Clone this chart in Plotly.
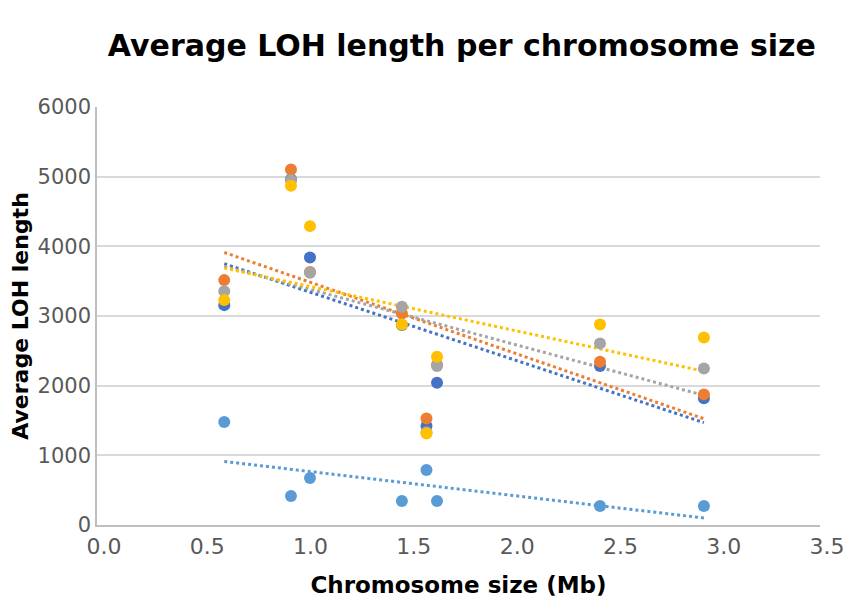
import numpy as np
import plotly.graph_objects as go

# chromosome sizes (Mb)
chrom_size = [0.616, 0.939, 1.031, 1.476, 1.595, 1.646, 2.435, 2.938]

# average LOH length per series
series1 = [3156, 4964, 3841, 2870, 1420, 2042, 2281, 1818]
series2 = [3515, 5103, 3630, 3037, 1530, 2300, 2343, 1875]
series3 = [3357, 4950, 3620, 3133, 1330, 2281, 2607, 2248]
series4 = [3228, 4868, 4290, 2879, 1315, 2415, 2879, 2693]
series5 = [1478, 416, 674, 344, 789, 344, 273, 273]

names = ["Series1", "Series2", "Series3", "Series4", "Series5"]
colors = ["#4472C4", "#ED7D31", "#A5A5A5", "#FFC000", "#5B9BD5"]
all_series = [series1, series2, series3, series4, series5]

fig = go.Figure()

# linear trendlines (dotted), drawn under the markers
x = np.array(chrom_size)
for name, col, ys in zip(names, colors, all_series):
    slope, icpt = np.polyfit(x, np.array(ys), 1)
    xs = np.array([x.min(), x.max()])
    fig.add_trace(go.Scatter(
        x=xs, y=slope * xs + icpt, mode="lines",
        line=dict(color=col, width=3, dash="dot"),
        name="Linear (" + name + ")", hoverinfo="skip"))

for name, col, ys in zip(names, colors, all_series):
    fig.add_trace(go.Scatter(
        x=chrom_size, y=ys, mode="markers", name=name,
        marker=dict(color=col, size=12)))

# the page has an 8px body margin, so margins are offset to compensate
fig.update_layout(
    width=858, height=600,
    paper_bgcolor="white", plot_bgcolor="white",
    showlegend=False,
    margin=dict(l=89, r=46, t=99, b=83),
    font=dict(family="DejaVu Sans", color="#595959"),
    title=dict(text="<b>Average LOH length per chromosome size</b>",
               x=0.529, xanchor="center", y=0.938, yanchor="middle",
               font=dict(family="DejaVu Sans", size=30, color="black")),
)

fig.update_xaxes(
    range=[0, 3.5], dtick=0.5, tickformat=".1f", automargin=False,
    showgrid=False, zeroline=False,
    showline=True, linecolor="#BFBFBF", linewidth=1.5,
    ticklabelstandoff=1, ticklabelshift=7,
    tickfont=dict(size=22, color="#595959"),
    title=dict(text="<b>Chromosome size (Mb)</b>", standoff=19,
               font=dict(size=23, color="black")),
)
fig.update_yaxes(
    range=[0, 6000], dtick=1000, automargin=False,
    showgrid=True, gridcolor="#D9D9D9", gridwidth=1.5, zeroline=False,
    showline=True, linecolor="#BFBFBF", linewidth=1.5,
    tickfont=dict(size=21, color="#595959"),
    title=dict(text="<b>Average LOH length</b>", standoff=9,
               font=dict(size=22, color="black")),
)

fig.write_html("out.html")
